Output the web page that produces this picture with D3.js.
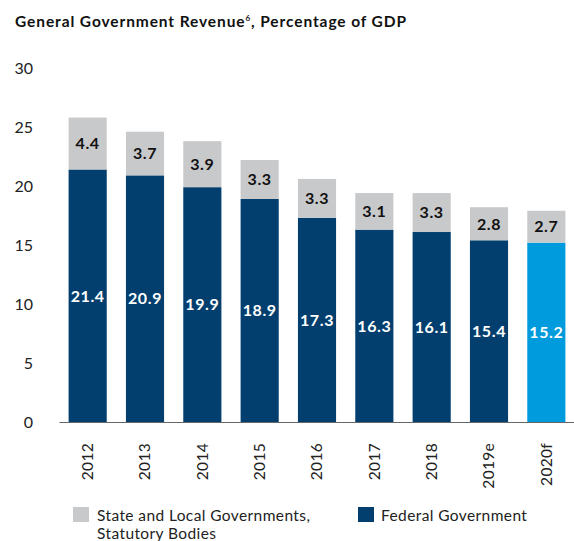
<!DOCTYPE html>
<html><head><meta charset="utf-8">
<script src="https://cdn.jsdelivr.net/npm/d3@7"></script>
<style>body{margin:0;background:#fff;} svg{display:block;font-family:Lato,"Noto Sans",sans-serif;}</style>
</head><body>
<svg id="c" width="574" height="541"></svg>
<script>
const years = ["2012","2013","2014","2015","2016","2017","2018","2019e","2020f"];
const federal = [21.4,20.9,19.9,18.9,17.3,16.3,16.1,15.4,15.2];
const stateLocal = [4.4,3.7,3.9,3.3,3.3,3.1,3.3,2.8,2.7];
const yTicks = [0,5,10,15,20,25,30];
const seriesNames = ["State and Local Governments,|Statutory Bodies","Federal Government"];

const svg = d3.select("#c");
const navy = "#023f6e", light = "#009bdc", grey = "#c8c9cb";
const x = d3.scaleBand().domain(years).range([59,575]).paddingInner(0.335).paddingOuter(0.1675);
const y = d3.scaleLinear().domain([0,30]).range([422,68]);

// title
const t = svg.append("text").attr("x",15).attr("y",27).attr("font-weight",700).attr("font-size",15.5).attr("letter-spacing",0.9).attr("fill","#111");
t.append("tspan").text("General Government Revenue");
t.append("tspan").text("6").attr("font-size",8).attr("dy",-6);
t.append("tspan").text(", Percentage of GDP").attr("dy",6);

// y ticks
const ya = svg.append("g").attr("transform","translate(33,0)").call(d3.axisLeft(y).tickValues(yTicks).tickSize(0).tickPadding(0));
ya.select(".domain").remove();
ya.selectAll("text").attr("font-size",16).attr("fill","#222").attr("font-family","Lato,sans-serif");

// bars
const g = svg.append("g");
years.forEach((yr,i)=>{
  const isF = yr.endsWith("f");
  g.append("rect").attr("x",x(yr)).attr("width",x.bandwidth()).attr("y",y(federal[i])).attr("height",y(0)-y(federal[i])).attr("fill",isF?light:navy);
  g.append("rect").attr("x",x(yr)).attr("width",x.bandwidth()).attr("y",y(federal[i]+stateLocal[i])).attr("height",y(federal[i])-y(federal[i]+stateLocal[i])).attr("fill",grey);
  g.append("text").attr("x",x(yr)+x.bandwidth()/2).attr("y",(y(0)+y(federal[i]))/2).attr("dy","0.36em").attr("text-anchor","middle").attr("font-weight",700).attr("font-size",16).attr("letter-spacing",0.6).attr("fill","#fff").text(federal[i].toFixed(1));
  g.append("text").attr("x",x(yr)+x.bandwidth()/2).attr("y",(y(federal[i])+y(federal[i]+stateLocal[i]))/2).attr("dy","0.36em").attr("text-anchor","middle").attr("font-weight",700).attr("font-size",16).attr("letter-spacing",0.6).attr("fill","#111").text(stateLocal[i].toFixed(1));
});

// x axis
const xa = svg.append("g").attr("transform","translate(0,422)").call(d3.axisBottom(x).tickSize(0).tickSizeOuter(0));
xa.select(".domain").attr("stroke","#666").attr("stroke-width",1.2);
xa.selectAll("text").attr("font-size",15.5).attr("letter-spacing",0.3).attr("fill","#222").attr("font-family","Lato,sans-serif")
  .attr("transform","rotate(-90)").attr("text-anchor","end").attr("x",-21).attr("y",0).attr("dy","0.35em");

// legend
const leg = svg.append("g");
leg.append("rect").attr("x",73).attr("y",507).attr("width",16).attr("height",15).attr("fill",grey);
const lt = leg.append("text").attr("x",97).attr("y",521).attr("font-size",15.5).attr("letter-spacing",0.4).attr("fill","#222");
seriesNames[0].split("|").forEach((s,k)=>lt.append("tspan").attr("x",97).attr("dy",k?18:0).text(s));
leg.append("rect").attr("x",358).attr("y",507).attr("width",16).attr("height",15).attr("fill",navy);
leg.append("text").attr("x",381).attr("y",521).attr("font-size",15.5).attr("letter-spacing",0.4).attr("fill","#222").text(seriesNames[1]);
</script>
</body></html>
